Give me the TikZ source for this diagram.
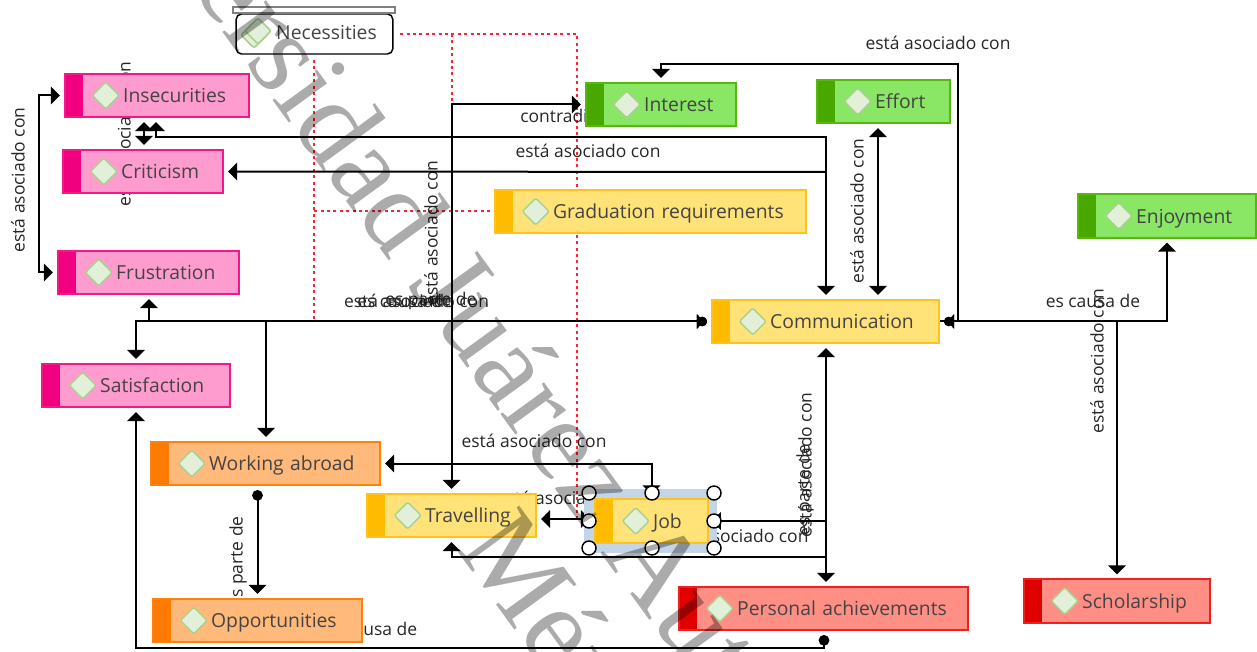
\documentclass[tikz,border=0pt]{standalone}
\usepackage{fontspec}
\setmainfont{Open Sans}
\newfontfamily\wmfont{Liberation Serif}
\usepackage{xcolor}
\usetikzlibrary{positioning,calc,backgrounds,shapes.geometric,arrows.meta}
\definecolor{pinkfill}{RGB}{255,156,207}
\definecolor{pinkband}{RGB}{240,0,127}
\definecolor{pinkline}{RGB}{242,24,140}
\definecolor{greenfill}{RGB}{138,230,101}
\definecolor{greenband}{RGB}{72,168,0}
\definecolor{greenline}{RGB}{85,184,10}
\definecolor{yellowfill}{RGB}{255,226,120}
\definecolor{yellowband}{RGB}{255,187,0}
\definecolor{yellowline}{RGB}{255,194,26}
\definecolor{orangefill}{RGB}{255,185,122}
\definecolor{orangeband}{RGB}{255,122,0}
\definecolor{orangeline}{RGB}{255,128,10}
\definecolor{redfill}{RGB}{255,143,133}
\definecolor{redband}{RGB}{224,0,0}
\definecolor{redline}{RGB}{238,32,32}
\definecolor{leafgreen}{RGB}{226,239,217}
\definecolor{leafline}{RGB}{169,209,142}
\definecolor{inktext}{RGB}{68,68,68}
\definecolor{halo}{RGB}{197,213,232}
\definecolor{dotred}{RGB}{255,32,48}
\tikzset{
    boxtext/.style={font=\fontsize{14.5}{17}\selectfont, text=inktext},
    conceptbox/.style={rectangle, inner sep=0pt, minimum height=32.6pt, line width=1.2pt, align=left, boxtext, text height=12pt, text depth=1.2pt},
    leafmark/.style={draw=leafline, fill=leafgreen, line width=1.1pt, rounded corners=1.5pt},
    leaf/.style={diamond, leafmark, minimum width=20pt, minimum height=20pt, inner sep=0pt},
    linktext/.style={font=\fontsize{13.1}{16}\selectfont, text=black!85, inner sep=0pt},
    uplabel/.style={linktext, rotate=90},
    tri/.tip={Triangle[length=6.8pt,width=13pt]},
    dot/.tip={Circle[length=8pt]},
    tridot/.tip={Triangle[length=5pt,width=10.5pt,sep=-4.5pt] Circle[length=7pt]},
    link/.style={draw=black, line width=1.5pt, shorten <=3pt, shorten >=3pt},
    redlink/.style={draw=dotred, line width=1.5pt, dash pattern=on 2.2pt off 2.6pt},
    handle/.style={circle, draw=black, fill=white, line width=1.1pt, minimum size=10.5pt, inner sep=0pt},
    watermark/.style={font=\wmfont\fontsize{88}{92}\selectfont, text=black, text opacity=.33, inner sep=0pt, anchor=base west, rotate=-54},
}
\begin{document}
\begin{tikzpicture}[x=0.75pt,y=-0.75pt]
\clip (0,0) rectangle (1257,652);
\useasboundingbox (0,0) rectangle (1257,652);

% seleccion de Job, debajo de la caja
\fill[halo] (584,489) rectangle (717,553);

% cajas: nombre/x0/y0/x1/y1/color/texto
\foreach \nm/\xa/\ya/\xb/\yb/\col/\txt in {
    insecurities/64/73/250/118/pink/Insecurities,
    criticism/62/149/224/194/pink/Criticism,
    frustration/57/250/240/295/pink/Frustration,
    satisfaction/41/363/231/408/pink/Satisfaction,
    workingabroad/150/441/381/486/orange/Working abroad,
    opportunities/152/598/363/643/orange/Opportunities,
    travelling/366/493/537/538/yellow/Travelling,
    job/594/499/709/543/yellow/Job,
    graduation/494/189/807/234/yellow/Graduation requirements,
    communication/711/299/940/344/yellow/Communication,
    interest/585/82/737/127/green/Interest,
    effort/816/79/951/124/green/Effort,
    enjoyment/1077/193/1257/239/green/Enjoyment,
    personal/678/586/969/631/red/Personal achievements,
    scholarship/1023/579/1211/623/red/Scholarship}{
    \pgfmathsetmacro\boxw{(\xb-\xa-1.5)*0.75}
    \node[conceptbox, fill=\col fill, draw=\col line, text width=\boxw pt,
        path picture={
            \fill[\col band] (path picture bounding box.north west) rectangle ([xshift=13.5pt]path picture bounding box.south west);
            \coordinate (leafc) at ([xshift=30.75pt]path picture bounding box.west);
            \filldraw[leafmark] (leafc) +(-10pt,0) -- +(0,10pt) -- +(10pt,0) -- +(0,-10pt) -- cycle;
        }] (\nm) at ({(\xa+\xb)/2},{(\ya+\yb)/2}) {\hspace*{43.8pt}\txt};
}

% Necessities
\node[rectangle, rounded corners=4pt, draw=black, fill=white, line width=1.1pt, minimum width=117.5pt, minimum height=30pt, inner sep=0pt, boxtext, align=center] (necessities) at (314.5,34) {\raisebox{2.8pt}{\hspace*{18pt}Necessities}};
\node[rectangle, draw=black!50, fill=white, line width=1.5pt, minimum width=122pt, minimum height=5pt, inner sep=0pt] (necessitiestop) at (314,10) {};
\node[leaf] (necessitiesleafb) at (254,35) {};
\node[leaf] (necessitiesleaf) at (258,31) {};

% asas de seleccion
\foreach \hx/\hy [count=\i] in {589/493,652/493,714/493,589/521,714/521,589/548,652/548,714/548}{
    \node[handle] (handle\i) at (\hx,\hy) {};
}

% puntos de paso
\coordinate (leftrail) at (38.5,180);
\coordinate (railtop) at (826,137);
\coordinate (railcrit) at (826,172);
\coordinate (raillow) at (826,557);
\coordinate (railjob) at (826,521);
\coordinate (railright) at (958,64);
\coordinate (railbottom) at (136,648);
\coordinate (colinsec) at (156,0);
\coordinate (colpair) at (144,0);
\coordinate (colfrus) at (149,0);
\coordinate (colsatis) at (136,0);
\coordinate (colwork) at (266,0);
\coordinate (coleffort) at (878,0);
\coordinate (colcomm) at (826,0);
\coordinate (colperson) at (824,0);
\coordinate (colwork2) at (257.5,0);
\coordinate (rowpair) at (0,519);
\coordinate (reddrop) at (577,521);
\coordinate (redleft) at (314,319);

\begin{scope}[on background layer]
    % punteado rojo
    \draw[redlink] ([xshift=5pt]necessities.east) -| (reddrop)
        (necessities.east -| travelling.north) -- ([yshift=12pt]travelling.north)
        ([yshift=-4pt]necessities.south -| redleft) -- (redleft)
        ([xshift=-3pt]graduation.west) -- (graduation.west -| redleft);

    % etiquetas, algunas quedan bajo las cajas
    \node[uplabel] (lblinsec) at (18,180) {está asociado con};
    \node[uplabel] (lblpair) at (124,134) {está asociado con};
    \node[linktext] (lblcrit) at (588,151) {está asociado con};
    \node[linktext, anchor=west] (lblcontra) at (520,115.5) {contradice};
    \node[uplabel] (lbltravel) at (431,233) {está asociado con};
    \node[linktext] (lblmida) at (416.5,301) {está asociado con};
    \node[linktext, anchor=west] (lblmidb) at (357,301) {es causa de};
    \node[linktext, anchor=west] (lblmidc) at (385,301) {es parte de};
    \node[linktext] (lblabroad) at (534,441) {está asociado con};
    \node[linktext] (lblpairjob) at (569,498) {está asociado con};
    \node[linktext] (lbljob) at (736,536) {está asociado con};
    \node[uplabel] (lblcomma) at (805,465) {está asociado con};
    \node[uplabel] (lblcommb) at (805,490) {es parte de};
    \node[uplabel] (lbleffort) at (857,211) {está asociado con};
    \node[linktext] (lblinterest) at (938,43) {está asociado con};
    \node[linktext] (lblenjoy) at (1093,301) {es causa de};
    \node[uplabel] (lblschol) at (1097,361) {está asociado con};
    \node[uplabel] (lblopport) at (238,562) {es parte de};
    \node[linktext] (lblbottom) at (370,629) {es causa de};

    % conectores
    \draw[link, {tri}-{tri}] (insecurities.west) -| (leftrail) |- (frustration.west);
    \draw[link, {tri}-{tri}] (insecurities.south -| colinsec) |- (railtop) -- (communication.north -| railtop);
    \draw[link, {tri}-{tri}] (insecurities.south -| colpair) -- (criticism.north -| colpair);
    \draw[link, {tri}-, shorten >=0pt] (criticism.east) -- (railcrit);
    \draw[link, {tri}-{tridot}] (frustration.south -| colfrus) |- (communication.west);
    \draw[link, {tri}-{tridot}] (satisfaction.north -| colsatis) |- (communication.west);
    \draw[link, {tri}-{tridot}] (workingabroad.north -| colwork) |- (communication.west);
    \draw[link, {tri}-{tri}] (travelling.north) |- (interest.west);
    \draw[link, {tri}-, shorten >=0pt] (travelling.south) |- (raillow);
    \draw[link, {tri}-{tri}] (workingabroad.east) -| (job.north);
    \draw[link, {tri}-, shorten <=2pt, shorten >=0pt] (job.east) -- (railjob);
    \draw[link, {tri}-{tri}] (travelling.east |- rowpair) -- (job.west |- rowpair);
    \draw[link, {tri}-{tri}] (communication.south -| colcomm) -- (personal.north -| colcomm);
    \draw[link, {dot}-{tri}] (personal.south -| colperson) |- (railbottom) -- (satisfaction.south -| railbottom);
    \draw[link, {dot}-{tri}] (workingabroad.south -| colwork2) -- (opportunities.north -| colwork2);
    \draw[link, {tri}-{tridot}] (interest.north) |- (railright) |- (communication.east);
    \draw[link, {tri}-{tri}] (effort.south -| coleffort) -- (communication.north -| coleffort);
    \draw[link, {tridot}-{tri}] (communication.east) -| (enjoyment.south);
    \draw[link, -{tri}, shorten <=0pt] (communication.east) -| (scholarship.north);
\end{scope}

% marca de agua
\node[watermark] (wmuniversity) at (53,-202) {Universidad Juárez Autónoma de Tabasco};
\node[watermark] (wmmexico) at (455,548) {México};

\end{tikzpicture}
\end{document}
